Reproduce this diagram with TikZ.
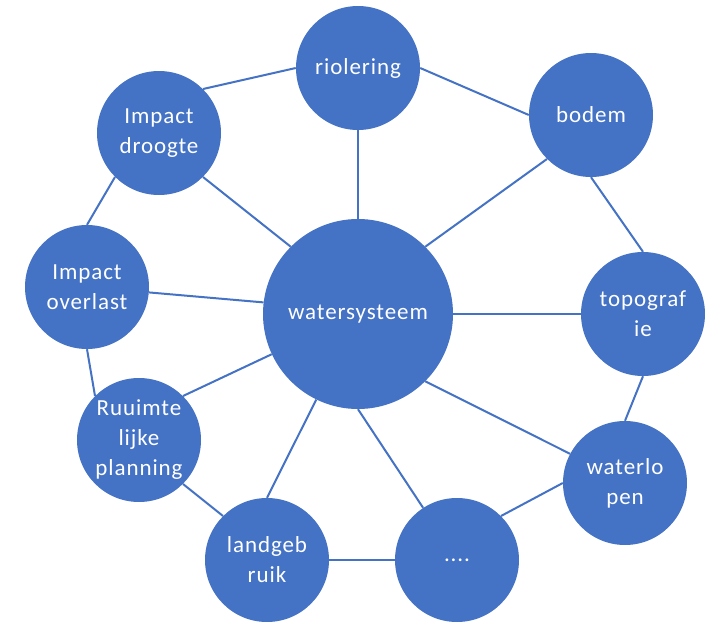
\documentclass[tikz,border=0pt]{standalone}
\usepackage{fontspec}
\setmainfont{Carlito}[LetterSpace=4]
\definecolor{officeblue}{HTML}{4472C4}
\begin{document}
\begin{tikzpicture}[x=1pt,y=-1pt,
	topic/.style={circle,fill=officeblue,text=white,minimum size=124pt,inner sep=0pt,align=center,font=\fontsize{23}{30}\selectfont},
	link/.style={draw=officeblue,line width=2pt}]
	\useasboundingbox (0,0) rectangle (705,624);
	\node[topic,minimum size=190pt](water) at (358,314) {watersysteem};
	\node[topic](riool) at (358,68) {riolering};
	\node[topic](bodem) at (591,115) {bodem};
	\node[topic](topo) at (643,314) {topograf\\ie};
	\node[topic](loop) at (625,483) {waterlo\\pen};
	\node[topic](dots) at (457,560) {....};
	\node[topic](land) at (267,560) {landgeb\\ruik};
	\node[topic](ruimte) at (139,440) {Ruuimte\\lijke\\planning};
	\node[topic](overlast) at (87,287) {Impact\\overlast};
	\node[topic](droogte) at (159,133) {Impact\\droogte};
	% ring
	\draw[link] (riool.east) -- (bodem.west);
	\draw[link] (bodem.south) -- (topo.north);
	\draw[link] (topo.south) -- (loop.north);
	\draw[link] (loop.west) -- (dots.north east);
	\draw[link] (dots.west) -- (land.east);
	\draw[link] (land.north west) -- (ruimte.south east);
	\draw[link] (ruimte.north west) -- (overlast.south);
	\draw[link] (overlast.north) -- (droogte.south west);
	\draw[link] (droogte.north east) -- (riool.west);
	% spokes
	\draw[link] (water.north) -- (riool.south);
	\draw[link] (water.north east) -- (bodem.south west);
	\draw[link] (water.east) -- (topo.west);
	\draw[link] (water.south east) -- (loop.152);
	\draw[link] (water.south) -- (dots.123);
	\draw[link] (water.244) -- (land.north);
	\draw[link] (water.205) -- (ruimte.north east);
	\draw[link] (water.173) -- (overlast.-5);
	\draw[link] (water.north west) -- (droogte.south east);
\end{tikzpicture}
\end{document}
